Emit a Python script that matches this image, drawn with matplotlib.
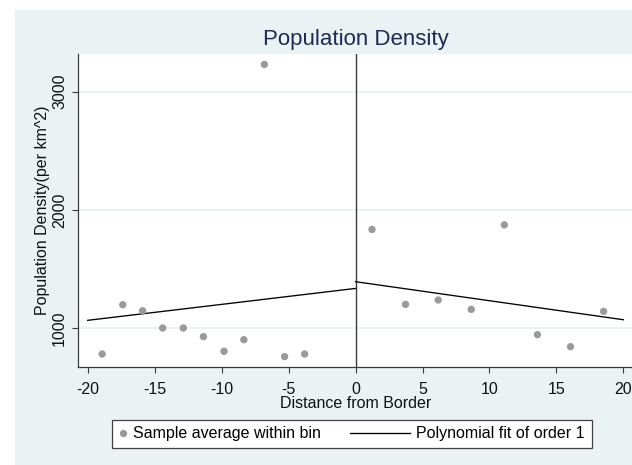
import matplotlib
matplotlib.use("Agg")
import matplotlib.pyplot as plt
from matplotlib.lines import Line2D
from matplotlib.patches import Rectangle
from matplotlib.legend_handler import HandlerLine2D

plt.rcParams['font.family'] = ['Liberation Sans', 'DejaVu Sans']

# ---- data ----
left_x = [-18.92, -17.38, -15.90, -14.40, -12.86, -11.36, -9.82, -8.34, -6.81, -5.30, -3.80]
left_y = [780, 1197, 1146, 1000, 1000, 927, 803, 901, 3231, 758, 780]
right_x = [1.23, 3.73, 6.17, 8.64, 11.11, 13.58, 16.05, 18.52]
right_y = [1834, 1200, 1237, 1158, 1873, 944, 842, 1141]
fit_left_x = [-20, 0]
fit_left_y = [1065, 1335]
fit_right_x = [0, 20]
fit_right_y = [1392, 1070]
x_ticks = [-20, -15, -10, -5, 0, 5, 10, 15, 20]
y_ticks = [1000, 2000, 3000]
title = "Population Density"
x_label = "Distance from Border"
y_label = "Population Density(per km^2)"
legend_labels = ["Sample average within bin", "Polynomial fit of order 1"]

BG = '#eaf2f3'
W, H = 632, 465
fig = plt.figure(figsize=(W / 100, H / 100), dpi=100, facecolor='white')
fig.patches.append(Rectangle((15 / W, 0), 1, (H - 10) / H, transform=fig.transFigure,
                             facecolor=BG, edgecolor='none', zorder=-10))

ax_left, ax_right = 77.8 / W, 633.3 / W
ax_bottom, ax_top = (H - 367) / H, (H - 54) / H
ax = fig.add_axes([ax_left, ax_bottom, ax_right - ax_left, ax_top - ax_bottom])
ax.set_facecolor('white')

ax.set_xlim(-20.74, 20.74)
ax.set_ylim(670, 3319)

for yv in y_ticks:
    ax.axhline(yv, color=BG, lw=1.3, zorder=0)

ax.axvline(0, color='#3a3a3a', lw=1.0, zorder=1)

mcol = '#9a9a9a'
ax.scatter(left_x, left_y, s=28, color=mcol, edgecolors='none', zorder=3)
ax.scatter(right_x, right_y, s=28, color=mcol, edgecolors='none', zorder=3)
ax.plot(fit_left_x, fit_left_y, color='black', lw=0.95, zorder=2)
ax.plot(fit_right_x, fit_right_y, color='black', lw=0.95, zorder=2)

for s in ['top', 'right']:
    ax.spines[s].set_visible(False)
for s in ['left', 'bottom']:
    ax.spines[s].set_color('#3a3a3a')
    ax.spines[s].set_linewidth(0.9)

ax.set_xticks(x_ticks)
ax.set_xticklabels([str(v) for v in x_ticks])
ax.set_yticks(y_ticks)
ax.set_yticklabels([str(v) for v in y_ticks], rotation=90, va='center')
ax.tick_params(axis='both', direction='out', length=4.3, width=0.8, color='#3a3a3a',
               labelsize=11.5, labelcolor='#111111')
ax.tick_params(axis='x', pad=6.6)
ax.tick_params(axis='y', pad=3.5)

ax.set_xlabel(x_label, fontsize=11.5, color='#111111', labelpad=-0.5)
ax.set_ylabel(y_label, fontsize=11.5, color='#111111', labelpad=1.5)

fig.text(355.6 / W, (H - 40) / H, title, ha='center', va='center', fontsize=16, color='#1e2a55')

# legend
class LongLine(HandlerLine2D):
    def create_artists(self, legend, orig_handle, xdescent, ydescent, width, height, fontsize, trans):
        ext = 3.25 * fontsize
        y = height / 2 - ydescent
        ln = Line2D([-xdescent + width - ext - width, -xdescent + width], [y, y],
                    color='black', lw=0.95)
        ln.set_transform(trans)
        return [ln]

h1 = Line2D([], [], linestyle='none', marker='o', markersize=5.3, color=mcol, markeredgewidth=0)
h2 = Line2D([], [], color='black', lw=0.95)
leg = fig.legend([h1, h2], legend_labels, ncol=2, loc='upper left',
                 bbox_to_anchor=(112 / W, (H - 419.5) / H), borderaxespad=0,
                 fontsize=11.5, frameon=True, fancybox=False, edgecolor='#404040',
                 facecolor='white', framealpha=1, borderpad=0.42, handlelength=0.5,
                 handletextpad=0.41, columnspacing=5.06, numpoints=1,
                 handler_map={h2: LongLine()})
leg.get_frame().set_linewidth(0.9)

fig.savefig('out.png', dpi=100, facecolor='white')
